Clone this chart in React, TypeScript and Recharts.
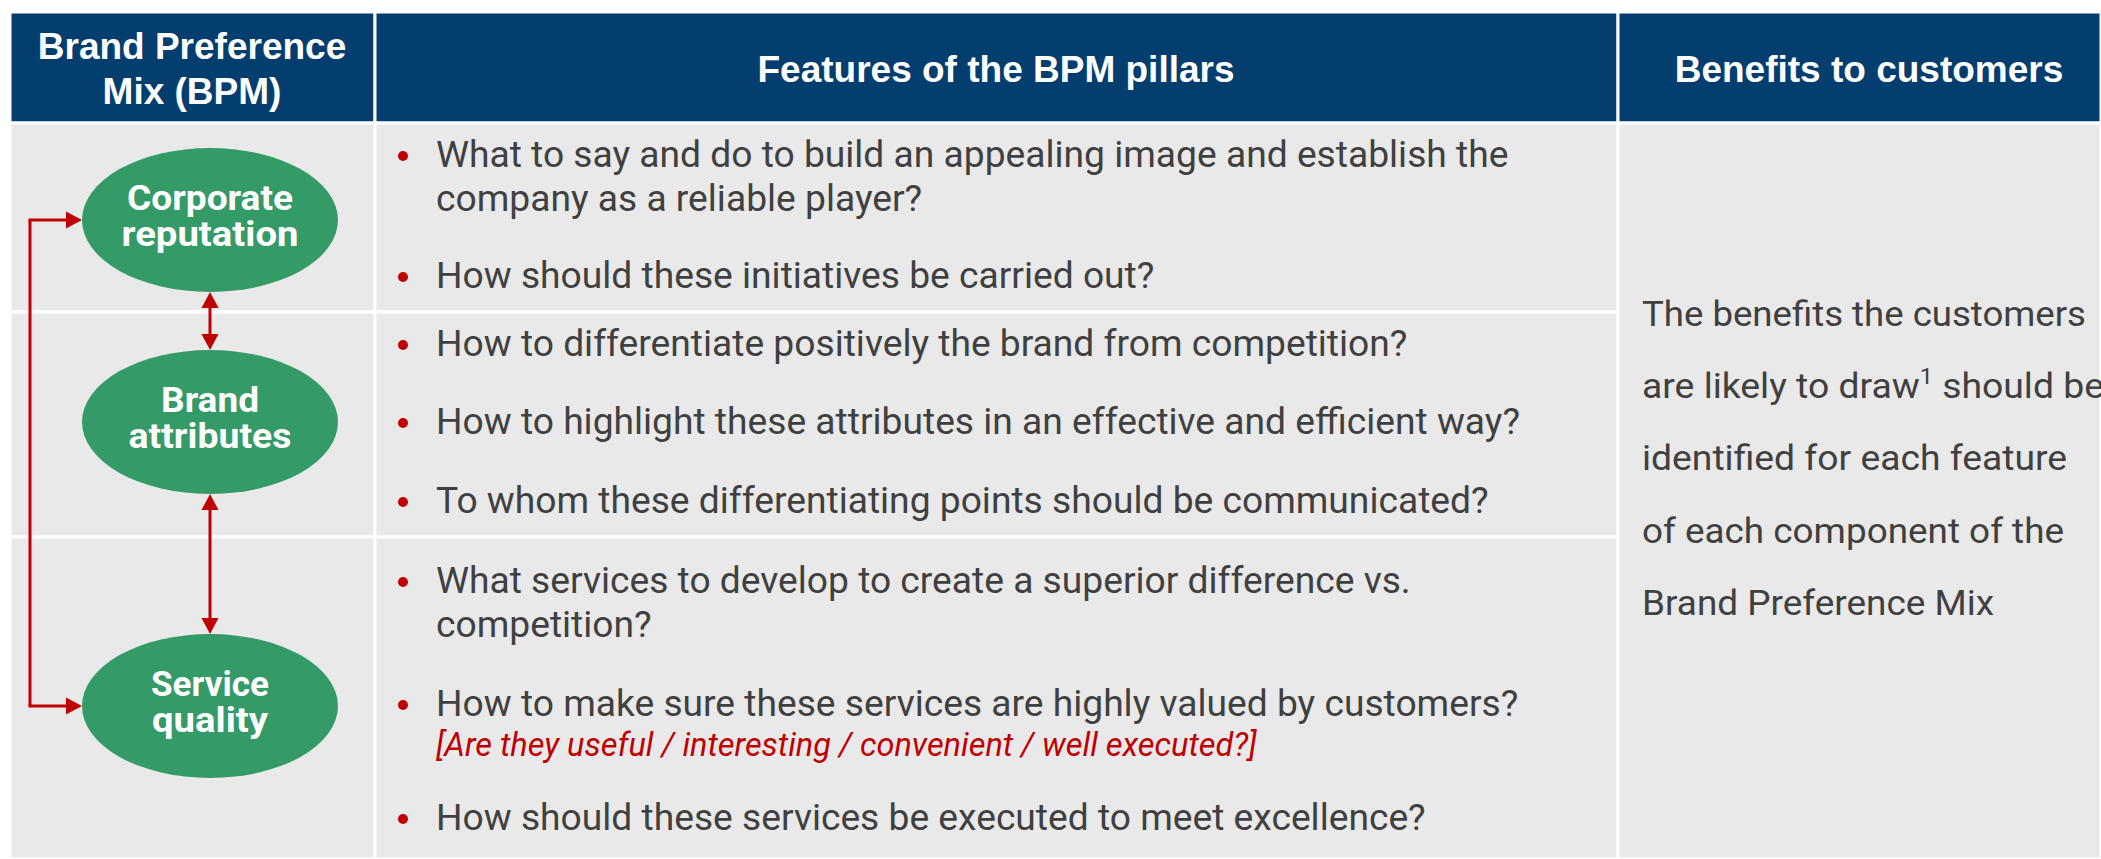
import React from 'react';
import {
  ScatterChart,
  Scatter,
  XAxis,
  YAxis,
  ReferenceArea,
  ReferenceLine,
  ReferenceDot
} from 'recharts';

// ---- content ----
const headerTitles = [['Brand Preference', 'Mix (BPM)'], ['Features of the BPM pillars'], ['Benefits to customers']];

const pillarNames = [
  ['Corporate', 'reputation'],
  ['Brand', 'attributes'],
  ['Service', 'quality']
];

const corporateQuestions = [
  ['What to say and do to build an appealing image and establish the', 'company as a reliable player?'],
  ['How should these initiatives be carried out?']
];
const brandQuestions = [
  ['How to differentiate positively the brand from competition?'],
  ['How to highlight these attributes in an effective and efficient way?'],
  ['To whom these differentiating points should be communicated?']
];
const serviceQuestions = [
  ['What services to develop to create a superior difference vs.', 'competition?'],
  ['How to make sure these services are highly valued by customers?'],
  ['How should these services be executed to meet excellence?']
];
const serviceNote = '[Are they useful / interesting / convenient / well executed?]';

const benefitLines = [
  'The benefits the customers',
  'are likely to draw¹ should be',
  'identified for each feature',
  'of each component of the',
  'Brand Preference Mix'
];

// ---- layout (pixels in chart space) ----
const W = 2101;
const H = 859;
const COL_X = [10, 375, 1618, W];
const ROW_Y = [12, 123, 312, 537, H];
const HEADER_CX = [192, 996, 1869];
const HEADER_BASE = [[59, 104], [82], [82]];

const PILLAR_CX = 210;
const PILLAR_CY = [220, 422, 706];
const PILLAR_RX = 128;
const PILLAR_RY = 72;
const PILLAR_TEXT_W = [[166, 177], [98, 163], [118, 116]];
const LOOP_X = 30;

const BULLET_X = 403;
const TEXT_X = 436;
const LINE_GAP = 44;
const QUESTION_BASE = [[167, 288], [356, 434, 513], [593, 716, 830]];
const NOTE_BASE = 756;

const BENEFIT_X = 1642;
const BENEFIT_BASE = [326, 398, 470, 543, 615];
const BENEFIT_W = [444, 462, 425, 422, 352];

const NAVY = '#043E6F';
const GRAY = '#E9E9E9';
const GREEN = '#349A68';
const RED = '#C00000';
const INK = '#404040';
const BODY_FONT = 'Roboto, "Noto Sans", sans-serif';
const HEAD_FONT = '"Liberation Sans", Arial, sans-serif';

const questionRows = [corporateQuestions, brandQuestions, serviceQuestions];

const pillarData = pillarNames.map((lines, i) => ({ x: PILLAR_CX, y: PILLAR_CY[i], lines, idx: i }));

const PillarShape = (props: any) => {
  const { cx, cy, payload } = props;
  return (
    <g>
      <ellipse cx={cx} cy={cy} rx={PILLAR_RX} ry={PILLAR_RY} fill={GREEN} />
      {payload.lines.map((t: string, k: number) => (
        <text
          key={k}
          x={cx}
          y={cy - 10 + k * 36}
          textAnchor="middle"
          fill="#fff"
          fontFamily={BODY_FONT}
          fontWeight={700}
          fontSize={35}
          textLength={PILLAR_TEXT_W[payload.idx][k]}
          lengthAdjust="spacingAndGlyphs"
        >
          {t}
        </text>
      ))}
    </g>
  );
};

const arrowHead = (dir: 'up' | 'down' | 'right') => (p: any) => {
  const { cx, cy } = p;
  let pts = '';
  if (dir === 'up') pts = `${cx},${cy} ${cx - 8.5},${cy + 16} ${cx + 8.5},${cy + 16}`;
  if (dir === 'down') pts = `${cx},${cy} ${cx - 8.5},${cy - 16} ${cx + 8.5},${cy - 16}`;
  if (dir === 'right') pts = `${cx},${cy} ${cx - 16},${cy - 8.5} ${cx - 16},${cy + 8.5}`;
  return <polygon points={pts} fill={RED} />;
};

const textAt = (content: React.ReactNode, style: any) => (p: any) => (
  <text x={p.cx} y={p.cy} {...style}>
    {content}
  </text>
);

const BenefitText = (line: string, width: number) => {
  const parts = line.split('¹');
  return (p: any) => (
    <text
      x={p.cx}
      y={p.cy}
      fill={INK}
      fontFamily={BODY_FONT}
      fontSize={35}
      textLength={width}
      lengthAdjust="spacingAndGlyphs"
    >
      {parts[0]}
      {parts.length > 1 && (
        <>
          <tspan fontSize={22} dy={-14}>1</tspan>
          <tspan dy={14}>{parts[1]}</tspan>
        </>
      )}
    </text>
  );
};

const App = () => {
  const lines: React.ReactNode[] = [];
  questionRows.forEach((row, r) => {
    row.forEach((q, i) => {
      const base = QUESTION_BASE[r][i];
      lines.push(
        <ReferenceDot
          key={`b-${r}-${i}`}
          x={BULLET_X}
          y={base - 11}
          r={5}
          fill={RED}
          stroke="none"
        />
      );
      q.forEach((t, k) => {
        lines.push(
          <ReferenceDot
            key={`q-${r}-${i}-${k}`}
            x={TEXT_X}
            y={base + k * LINE_GAP}
            shape={textAt(t, { fill: INK, fontFamily: BODY_FONT, fontSize: 37.2 })}
          />
        );
      });
    });
  });

  return (
    <div style={{ width: W, height: H, background: '#fff' }}>
      <style>{'body{margin:0}'}</style>
      <ScatterChart width={W} height={H} margin={{ top: 0, right: 0, bottom: 0, left: 0 }}>
        <XAxis type="number" dataKey="x" domain={[0, W]} hide />
        <YAxis type="number" dataKey="y" domain={[0, H]} reversed hide />

        {/* table cells */}
        {COL_X.slice(0, -1).map((x1, c) => (
          <ReferenceArea
            key={`h-${c}`}
            x1={x1}
            x2={COL_X[c + 1]}
            y1={ROW_Y[0]}
            y2={ROW_Y[1]}
            fill={NAVY}
            fillOpacity={1}
            stroke="#fff"
            strokeWidth={3}
          />
        ))}
        {[0, 1].map(c =>
          ROW_Y.slice(1, -1).map((y1, r) => (
            <ReferenceArea
              key={`c-${c}-${r}`}
              x1={COL_X[c]}
              x2={COL_X[c + 1]}
              y1={y1}
              y2={ROW_Y[r + 2]}
              fill={GRAY}
              fillOpacity={1}
              stroke="#fff"
              strokeWidth={3}
            />
          ))
        )}
        <ReferenceArea
          x1={COL_X[2]}
          x2={COL_X[3]}
          y1={ROW_Y[1]}
          y2={ROW_Y[4]}
          fill={GRAY}
          fillOpacity={1}
          stroke="#fff"
          strokeWidth={3}
        />

        {/* header titles */}
        {headerTitles.map((t, c) =>
          t.map((s, k) => (
            <ReferenceDot
              key={`ht-${c}-${k}`}
              x={HEADER_CX[c]}
              y={HEADER_BASE[c][k]}
              shape={textAt(s, {
                fill: '#fff',
                fontFamily: HEAD_FONT,
                fontWeight: 700,
                fontSize: 37,
                textAnchor: 'middle'
              })}
            />
          ))
        )}

        {/* connectors between pillars */}
        <ReferenceLine
          segment={[{ x: LOOP_X, y: PILLAR_CY[0] }, { x: LOOP_X, y: PILLAR_CY[2] }]}
          stroke={RED}
          strokeWidth={3}
        />
        {[0, 2].map(i => (
          <ReferenceLine
            key={`loop-${i}`}
            segment={[{ x: LOOP_X - 1.5, y: PILLAR_CY[i] }, { x: PILLAR_CX - PILLAR_RX - 14, y: PILLAR_CY[i] }]}
            stroke={RED}
            strokeWidth={3}
          />
        ))}
        {[0, 2].map(i => (
          <ReferenceDot
            key={`la-${i}`}
            x={PILLAR_CX - PILLAR_RX}
            y={PILLAR_CY[i]}
            shape={arrowHead('right')}
          />
        ))}
        {[0, 1].map(i => (
          <ReferenceLine
            key={`v-${i}`}
            segment={[
              { x: PILLAR_CX, y: PILLAR_CY[i] + PILLAR_RY + 14 },
              { x: PILLAR_CX, y: PILLAR_CY[i + 1] - PILLAR_RY - 14 }
            ]}
            stroke={RED}
            strokeWidth={3}
          />
        ))}
        {[0, 1].map(i => (
          <ReferenceDot
            key={`up-${i}`}
            x={PILLAR_CX}
            y={PILLAR_CY[i] + PILLAR_RY}
            shape={arrowHead('up')}
          />
        ))}
        {[0, 1].map(i => (
          <ReferenceDot
            key={`dn-${i}`}
            x={PILLAR_CX}
            y={PILLAR_CY[i + 1] - PILLAR_RY}
            shape={arrowHead('down')}
          />
        ))}

        <Scatter data={pillarData} shape={PillarShape} isAnimationActive={false} />

        {/* feature questions */}
        {lines}
        <ReferenceDot
          x={TEXT_X}
          y={NOTE_BASE}
          shape={textAt(serviceNote, { fill: RED, fontFamily: BODY_FONT, fontStyle: 'italic', fontSize: 32.5 })}
        />

        {/* benefits */}
        {benefitLines.map((t, i) => (
          <ReferenceDot
            key={`bn-${i}`}
            x={BENEFIT_X}
            y={BENEFIT_BASE[i]}
            shape={BenefitText(t, BENEFIT_W[i])}
          />
        ))}
      </ScatterChart>
    </div>
  );
};

export default App;
